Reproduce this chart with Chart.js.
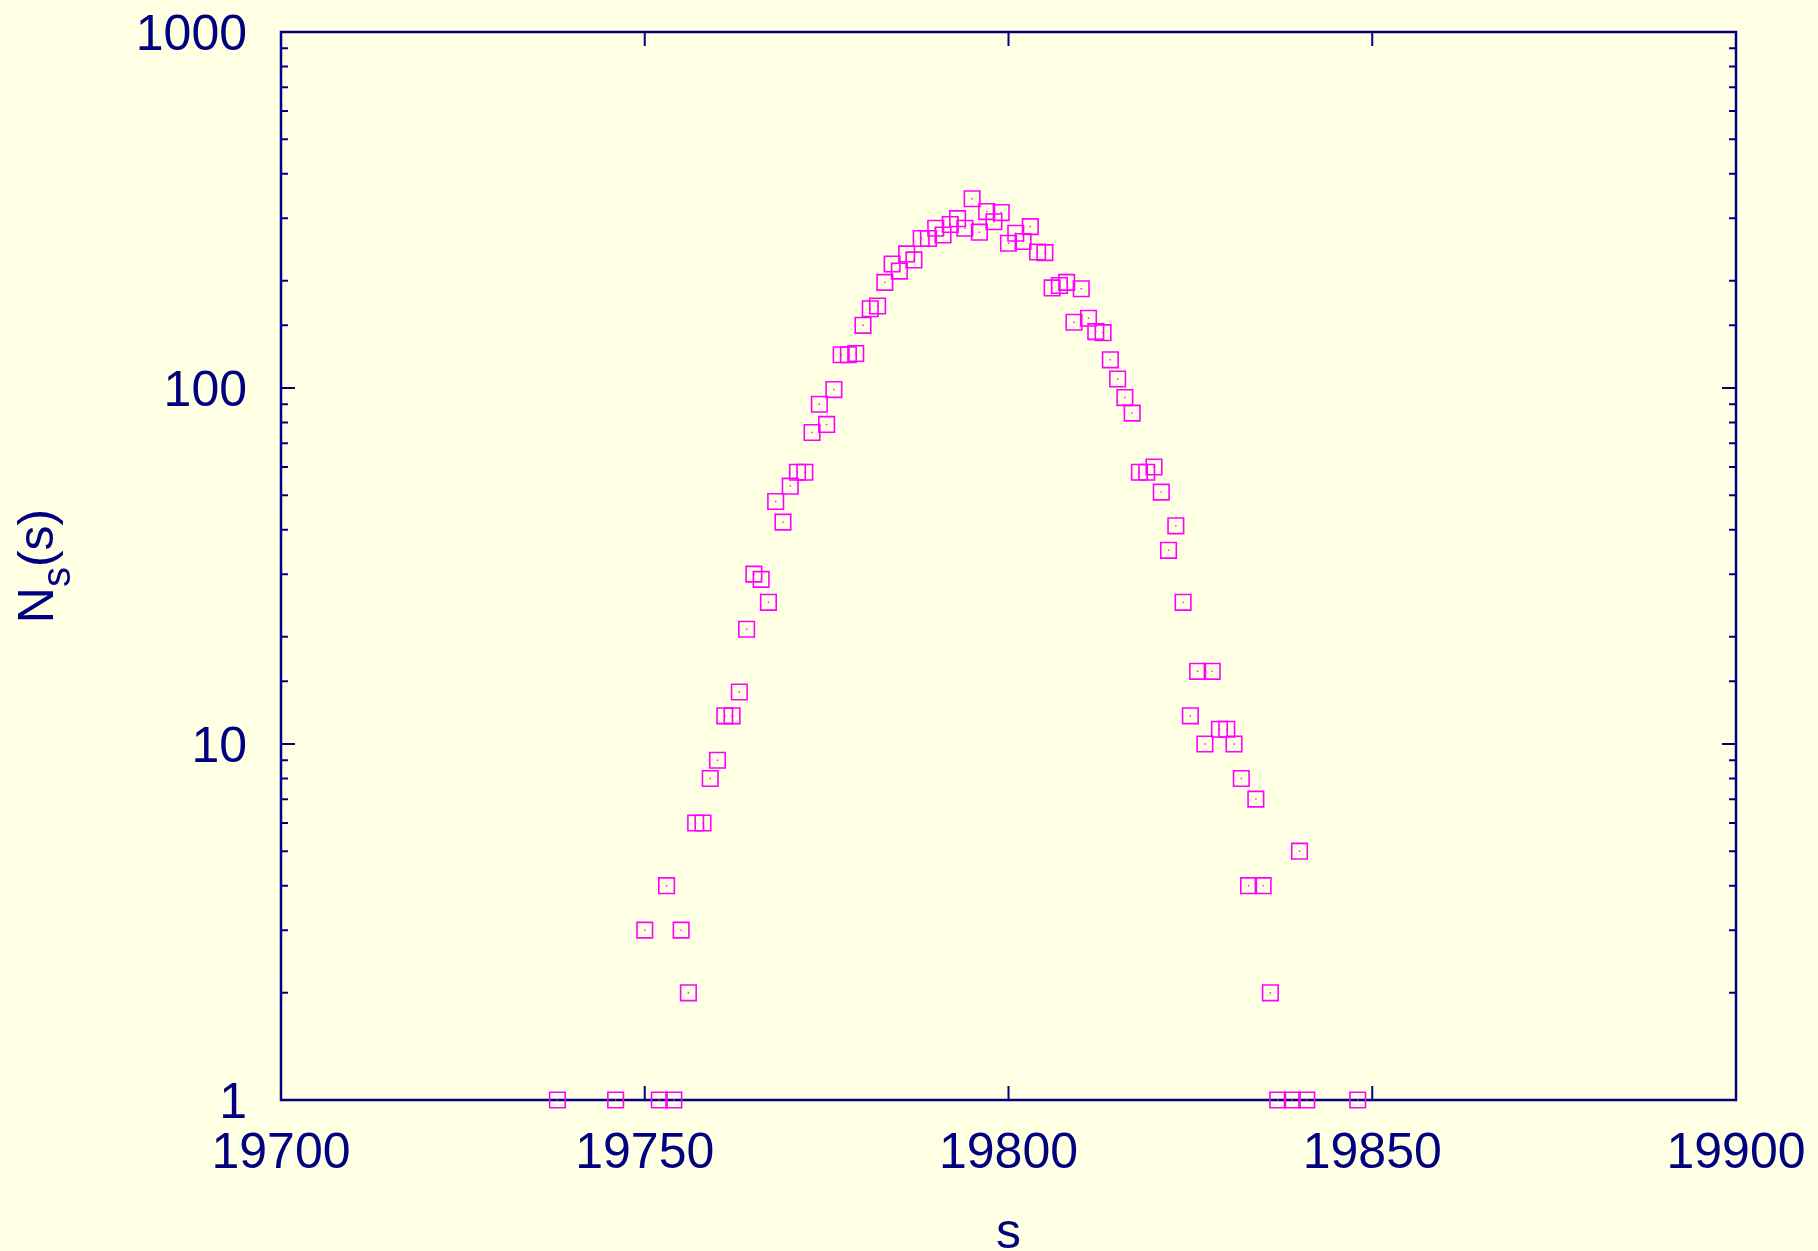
<!DOCTYPE html>
<html>
<head>
<meta charset="utf-8">
<title>N_s(s)</title>
<script src="https://cdn.jsdelivr.net/npm/chart.js@4.4.1/dist/chart.umd.min.js"></script>
<style>
  html, body { margin: 0; padding: 0; background: #ffffe4; }
  #wrap { width: 1818px; height: 1251px; }
</style>
</head>
<body>
<div id="wrap"><canvas id="nsChart" width="1818" height="1251"></canvas></div>
<script>
// cluster sizes s and counts N_s(s)
const sValues = [
  19738, 19746, 19750, 19752, 19753, 19754, 19755, 19756, 19757, 19758,
  19759, 19760, 19761, 19762, 19763, 19764, 19765, 19766, 19767, 19768,
  19769, 19770, 19771, 19772, 19773, 19774, 19775, 19776, 19777, 19778,
  19779, 19780, 19781, 19782, 19783, 19784, 19785, 19786, 19787, 19788,
  19789, 19790, 19791, 19792, 19793, 19794, 19795, 19796, 19797, 19798,
  19799, 19800, 19801, 19802, 19803, 19804, 19805, 19806, 19807, 19808,
  19809, 19810, 19811, 19812, 19813, 19814, 19815, 19816, 19817, 19818,
  19819, 19820, 19821, 19822, 19823, 19824, 19825, 19826, 19827, 19828,
  19829, 19830, 19831, 19832, 19833, 19834, 19835, 19836, 19837, 19839,
  19840, 19841, 19848
];
const nsValues = [
  1, 1, 3, 1, 4, 1, 3, 2, 6, 6,
  8, 9, 12, 12, 14, 21, 30, 29, 25, 48,
  42, 53, 58, 58, 75, 90, 79, 99, 124, 124,
  125, 150, 167, 170, 198, 223, 213, 238, 229, 263,
  263, 281, 269, 288, 299, 281, 340, 274, 313, 293,
  311, 255, 272, 258, 284, 241, 240, 191, 194, 198,
  153, 190, 157, 144, 143, 120, 106, 94, 85, 58,
  58, 60, 51, 35, 41, 25, 12, 16, 10, 16,
  11, 11, 10, 8, 4, 7, 4, 2, 1, 1,
  5, 1, 1
];
const xTicks = [19700, 19750, 19800, 19850, 19900];
const yLabelTicks = [1, 10, 100, 1000];

const NAVY = "#000080";
const PINK = "#ff00ff";
const FONT = "'Liberation Sans', Arial, sans-serif";

const points = sValues.map((s, i) => ({ x: s, y: nsValues[i] }));

// drop the label overhang padding so layout.padding alone places the frame
function noOverhang(scale) {
  scale.paddingTop = 0;
  scale.paddingBottom = 0;
  scale.paddingLeft = 0;
  scale.paddingRight = 0;
}

// gnuplot-style frame with inward ticks on all four sides
const framePlugin = {
  id: "frame",
  beforeDatasetsDraw(chart) {
    const { ctx, chartArea: a } = chart;
    const xs = chart.scales.x;
    const ys = chart.scales.y;
    ctx.save();
    ctx.strokeStyle = NAVY;
    ctx.lineWidth = 2.5;
    ctx.strokeRect(a.left, a.top, a.right - a.left, a.bottom - a.top);

    ctx.lineWidth = 2;
    ctx.beginPath();
    xs.ticks.forEach(t => {
      const px = xs.getPixelForValue(t.value);
      ctx.moveTo(px, a.bottom);
      ctx.lineTo(px, a.bottom - 14);
      ctx.moveTo(px, a.top);
      ctx.lineTo(px, a.top + 14);
    });
    ys.ticks.forEach(t => {
      const py = ys.getPixelForValue(t.value);
      const len = yLabelTicks.includes(t.value) ? 14 : 7;
      ctx.moveTo(a.left, py);
      ctx.lineTo(a.left + len, py);
      ctx.moveTo(a.right, py);
      ctx.lineTo(a.right - len, py);
    });
    ctx.stroke();
    ctx.restore();
  },
  afterDraw(chart) {
    // y title with a subscript: N_s(s)
    const { ctx, chartArea: a } = chart;
    const cy = (a.top + a.bottom) / 2;
    ctx.save();
    ctx.fillStyle = NAVY;
    ctx.textBaseline = "alphabetic";
    ctx.textAlign = "left";
    ctx.translate(53, cy);
    ctx.rotate(-Math.PI / 2);
    ctx.font = "50px " + FONT;
    const wN = ctx.measureText("N").width;
    const wP = ctx.measureText("(s)").width;
    ctx.font = "40px " + FONT;
    const wS = ctx.measureText("s").width;
    let x0 = -(wN + wS + wP) / 2;
    ctx.font = "50px " + FONT;
    ctx.fillText("N", x0, 0);
    x0 += wN;
    ctx.font = "40px " + FONT;
    ctx.fillText("s", x0, 17);
    x0 += wS;
    ctx.font = "50px " + FONT;
    ctx.fillText("(s)", x0, 0);
    ctx.restore();
  }
};

const bgPlugin = {
  id: "bg",
  beforeDraw(chart) {
    const { ctx, width, height } = chart;
    ctx.save();
    ctx.fillStyle = "#ffffe4";
    ctx.fillRect(0, 0, width, height);
    ctx.restore();
  }
};

new Chart(document.getElementById("nsChart"), {
  type: "scatter",
  data: {
    datasets: [
      {
        label: "N_s(s)",
        data: points,
        pointStyle: "rect",
        pointRadius: 11,
        pointHoverRadius: 11,
        borderColor: PINK,
        backgroundColor: "rgba(0,0,0,0)",
        pointBorderWidth: 1.6,
        clip: false
      },
      {
        label: "dots",
        data: points,
        pointStyle: "rect",
        pointRadius: 1,
        pointHoverRadius: 1,
        borderWidth: 0,
        pointBorderWidth: 0,
        backgroundColor: PINK,
        clip: false
      }
    ]
  },
  options: {
    responsive: false,
    animation: false,
    events: [],
    layout: {
      padding: { top: 32, right: 82, left: 0, bottom: 0 }
    },
    plugins: {
      legend: { display: false },
      tooltip: { enabled: false }
    },
    scales: {
      x: {
        type: "linear",
        min: 19700,
        max: 19900,
        afterBuildTicks(scale) {
          scale.ticks = xTicks.map(v => ({ value: v }));
        },
        afterFit(scale) {
          scale.height = 151;
          noOverhang(scale);
        },
        grid: { display: false, drawTicks: false },
        border: { display: false },
        ticks: {
          color: NAVY,
          font: { family: FONT, size: 50 },
          padding: 24,
          maxRotation: 0,
          autoSkip: false,
          callback: v => String(v)
        },
        title: {
          display: true,
          text: "s",
          color: NAVY,
          font: { family: FONT, size: 50, lineHeight: 0.68 },
          padding: 0
        }
      },
      y: {
        type: "logarithmic",
        min: 1,
        max: 1000,
        afterFit(scale) {
          scale.width = 281;
          noOverhang(scale);
        },
        grid: { display: false, drawTicks: false },
        border: { display: false },
        ticks: {
          color: NAVY,
          font: { family: FONT, size: 50 },
          padding: 34,
          labelOffset: 4,
          autoSkip: false,
          callback: v => (yLabelTicks.includes(v) ? String(v) : "")
        }
      }
    }
  },
  plugins: [bgPlugin, framePlugin]
});
</script>
</body>
</html>
